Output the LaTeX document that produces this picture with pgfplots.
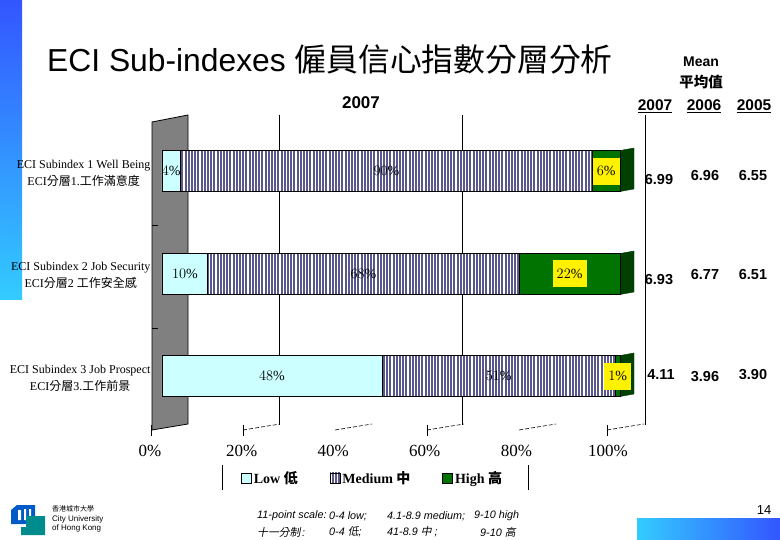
\documentclass[border=0pt]{standalone}
\usepackage{fontspec}
\usepackage{pgfplots}
\pgfplotsset{compat=1.18}
\usetikzlibrary{patterns.meta}
\setmainfont{Liberation Serif}
\newfontfamily\arial{Liberation Sans}
\newfontfamily\cjk{Noto Sans CJK TC}
\newfontfamily\cjkit[FakeSlant=0.2]{Noto Sans CJK TC}
\newcommand\C[1]{{\cjk #1}}
\newcommand\Ci[1]{{\cjkit #1}}
\definecolor{lowc}{RGB}{204,255,255}
\definecolor{stripe}{RGB}{88,88,138}
\definecolor{highc}{RGB}{0,115,0}
\definecolor{sidec}{RGB}{0,64,0}
\definecolor{wallc}{RGB}{128,128,128}
\definecolor{topblue}{RGB}{51,85,255}
\definecolor{lightblue}{RGB}{51,204,255}
\definecolor{logoblue}{RGB}{0,90,200}
\definecolor{logoteal}{RGB}{0,140,140}

% shares per subindex (c = 0 Job Prospect, 1 Job Security, 2 Well Being)
\pgfplotstableread{
c v
0 48
1 10
2 4
}\low
\pgfplotstableread{
c v
0 51
1 68
2 90
}\medium
\pgfplotstableread{
c v
0 1
1 22
2 6
}\high

\begin{document}
\begin{tikzpicture}
% slide background, 1 unit = 1 px of the reference
\begin{scope}[x=1pt,y=-1pt]
\path[use as bounding box] (0,0) rectangle (780,540);
\shade[top color=topblue,bottom color=lightblue] (0,0) rectangle (22,300);
\shade[left color=lightblue,right color=topblue] (637,518) rectangle (780,540);
% back plane and floor
\foreach \gx in {279,462,645} \draw[line width=0.8pt] (\gx,115) -- (\gx,425);
\foreach \lx in {243,335,427,519,607} \draw[line width=0.6pt, dash pattern=on 4pt off 2pt] (\lx,430) -- (\lx+37,424);
\foreach \lx in {151,243,427,607} \draw[line width=0.8pt] (\lx,425) -- (\lx,436);
\draw[fill=wallc, line width=0.8pt] (152,122) -- (188,115) -- (188,424) -- (152,430) -- cycle;
\draw[line width=0.8pt] (152,225) -- (158,225) (152,328) -- (158,328);
% right faces of the bars
\foreach \yc in {171,274,376}
  \draw[fill=sidec, draw=sidec] (620,\yc-20.5) -- (634,\yc-23) -- (634,\yc+18) -- (620,\yc+20.5) -- cycle;
\end{scope}

\begin{axis}[
  at={(162pt,-427.25pt)}, anchor=south west,
  scale only axis, width=458pt, height=307.5pt,
  xbar stacked, bar width=41pt,
  xmin=0, xmax=100, ymin=-0.5, ymax=2.5,
  axis line style={draw=none},
  major tick length=0pt,
  clip=false,
  xtick={0,20,40,60,80,100},
  xticklabels={0\%,20\%,40\%,60\%,80\%,100\%},
  xticklabel style={font=\fontsize{17}{17}\selectfont, anchor=north, xshift=-12pt, yshift=-14pt},
  ytick={0,1,2},
  yticklabels={{ECI Subindex 3 Job Prospect\\ECI\C{分層}3.\C{工作前景}},
               {ECI Subindex 2 Job Security\\ECI\C{分層}2 \C{工作安全感}},
               {ECI Subindex 1 Well Being\\ECI\C{分層}1.\C{工作滿意度}}},
  yticklabel style={font=\fontsize{12}{17}\selectfont, align=center, xshift=-8pt, yshift=-2pt},
  visualization depends on={\thisrow{v} \as \rawx},
  nodes near coords={\pgfmathprintnumber{\rawx}\%},
  every node near coord/.append style={anchor=center,
    font=\fontsize{14}{14}\selectfont, text=black},
  legend columns=3,
  legend style={at={(axis description cs:0.46,-0.165)}, anchor=center, draw=none, fill=none,
    font=\fontsize{14}{14}\selectfont\bfseries,
    /tikz/every even column/.append style={column sep=30pt}},
  legend image code/.code={\draw[#1, draw=black, line width=0.6pt] (0pt,-5pt) rectangle (10pt,5pt);},
]
\addplot[fill=lowc, draw=black, line width=0.6pt] table[x=v, y=c] {\low};
\addlegendentry{Low \C{\bfseries 低}}
\addplot[draw=black, line width=0.6pt, preaction={fill=white},
  pattern={Lines[angle=90,distance=3.2pt,line width=1.9pt]}, pattern color=stripe]
  table[x=v, y=c] {\medium};
\addlegendentry{Medium \C{\bfseries 中}}
\addplot[fill=highc, draw=black, line width=0.6pt,
  every node near coord/.append style={fill=yellow, inner xsep=4pt, minimum height=27pt}]
  table[x=v, y=c] {\high};
\addlegendentry{High \C{\bfseries 高}}
\end{axis}

\begin{scope}[x=1pt,y=-1pt]
\draw[line width=0.8pt] (222,465) -- (222,490) (528,465) -- (528,490);
\node[anchor=base west, inner sep=0pt, font=\arial\fontsize{31.8}{31.8}\selectfont] at (47,72)
  {ECI Sub-indexes \C{僱員信心指數分層分析}};
\node[font=\arial\bfseries\fontsize{17}{17}\selectfont] at (361,103) {2007};
\node[font=\arial\bfseries\fontsize{14}{14}\selectfont] at (701,62) {Mean};
\node[font=\cjk\bfseries\fontsize{14.5}{14.5}\selectfont] at (701,82) {平均值};
\foreach \yx/\yl in {655/2007,704/2006,754/2005}
  \node[font=\arial\bfseries\fontsize{15.5}{15.5}\selectfont] at (\yx,106) {\underline{\yl}};
\begin{scope}[every node/.style={font=\arial\bfseries\fontsize{14.5}{14.5}\selectfont}]
\node at (659,180) {6.99}; \node at (705,176) {6.96}; \node at (753,176) {6.55};
\node at (659,280) {6.93}; \node at (705,275) {6.77}; \node at (753,275) {6.51};
\node at (661,375) {4.11}; \node at (705,377) {3.96}; \node at (753,375) {3.90};
\end{scope}
% footer
\begin{scope}[every node/.style={anchor=west, inner sep=0pt, font=\arial\itshape\fontsize{10.8}{10.8}\selectfont}]
\node at (257,516) {11-point scale:};
\node at (329,516) {0-4 low;};
\node at (387,516) {4.1-8.9 medium;};
\node at (474,516) {9-10 high};
\node at (257,532) {\Ci{十一分制}\,:};
\node at (329,532) {0-4 \Ci{低};};
\node at (387,532) {41-8.9 \Ci{中} ;};
\node at (480,532) {9-10 \Ci{高}};
\end{scope}
\node[font=\arial\fontsize{13}{13}\selectfont] at (764,510) {14};
% logo
\fill[logoblue] (11,510) -- (17,505) -- (35,505) -- (35,524) -- (11,524) -- cycle;
\fill[white] (18,510) rectangle (21,520) (24,509) rectangle (26,520) (29,509) rectangle (31,520);
\fill[logoteal] (26,516) -- (45,516) -- (45,535) -- (21,535) -- (21,527) -- (26,527) -- cycle;
\begin{scope}[every node/.style={anchor=west, inner sep=0pt}]
\node[font=\cjk\fontsize{7}{7}\selectfont] at (52,509) {香港城市大學};
\node[font=\arial\fontsize{8}{8}\selectfont] at (52,519) {City University};
\node[font=\arial\fontsize{8}{8}\selectfont] at (52,528) {of Hong Kong};
\end{scope}
\end{scope}
\end{tikzpicture}
\end{document}
